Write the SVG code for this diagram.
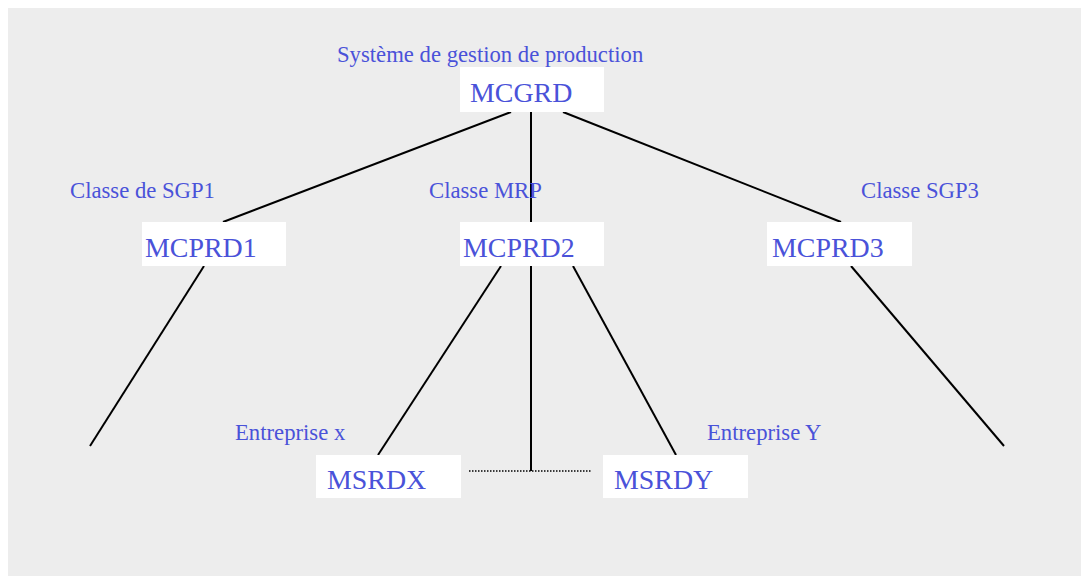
<svg xmlns="http://www.w3.org/2000/svg" width="1081" height="576" viewBox="0 0 1081 576">
  <style>
    .bg { fill: #ededed; }
    .box { fill: #ffffff; }
    .code { font-family: "Liberation Serif", "Times New Roman", serif; font-size: 27.9px; fill: #4a52d9; }
    .label { font-family: "Liberation Serif", "Times New Roman", serif; font-size: 22.7px; fill: #4a52d9; }
    .link { stroke: #000000; stroke-width: 2; fill: none; }
    .dotted { stroke: #000000; stroke-width: 1.5; stroke-dasharray: 1.5 1.5; fill: none; }
  </style>

  <rect class="bg" x="8" y="8" width="1073" height="568"/>

  <!-- connectors -->
  <g id="connectors">
    <line class="link" x1="511" y1="112" x2="223" y2="222"/>
    <line class="link" x1="531" y1="112" x2="531" y2="471"/>
    <line class="link" x1="563" y1="112" x2="841" y2="222"/>
    <line class="link" x1="204" y1="266" x2="90" y2="446"/>
    <line class="link" x1="501" y1="266" x2="378" y2="455"/>
    <line class="link" x1="573" y1="266" x2="676" y2="455"/>
    <line class="link" x1="851" y1="266" x2="1004" y2="446"/>
    <line class="dotted" x1="469" y1="471" x2="591" y2="471"/>
  </g>

  <!-- root -->
  <g id="mcgrd">
    <text class="label" x="337" y="62">Système de gestion de production</text>
    <rect class="box" x="460" y="67" width="144" height="45"/>
    <text class="code" x="470" y="102">MCGRD</text>
  </g>

  <!-- second level -->
  <g id="mcprd1">
    <text class="label" x="70" y="198">Classe de SGP1</text>
    <rect class="box" x="142" y="222" width="144" height="44"/>
    <text class="code" x="145" y="257">MCPRD1</text>
  </g>

  <g id="mcprd2">
    <text class="label" x="429" y="198">Classe MRP</text>
    <rect class="box" x="460" y="222" width="144" height="44"/>
    <text class="code" x="463" y="257">MCPRD2</text>
  </g>

  <g id="mcprd3">
    <text class="label" x="861" y="198">Classe SGP3</text>
    <rect class="box" x="767" y="222" width="145" height="44"/>
    <text class="code" x="772" y="257">MCPRD3</text>
  </g>

  <!-- third level -->
  <g id="msrdx">
    <text class="label" x="235" y="440">Entreprise x</text>
    <rect class="box" x="316" y="455" width="145" height="43"/>
    <text class="code" x="327" y="489">MSRDX</text>
  </g>

  <g id="msrdy">
    <text class="label" x="707" y="440">Entreprise Y</text>
    <rect class="box" x="603" y="455" width="145" height="43"/>
    <text class="code" x="614" y="489">MSRDY</text>
  </g>
</svg>
